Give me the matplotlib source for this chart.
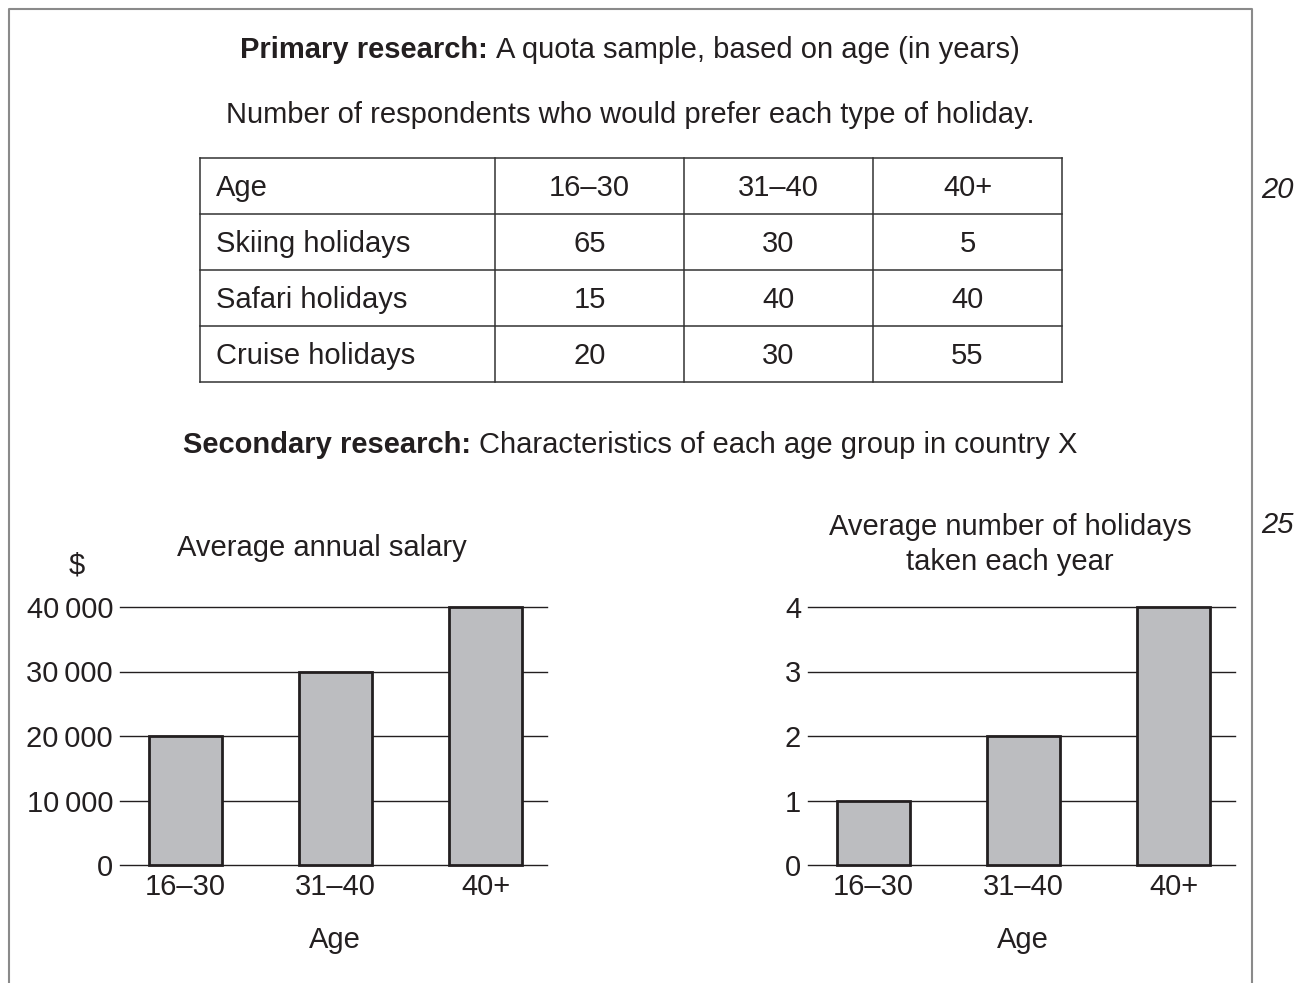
import numpy as np
import matplotlib
matplotlib.use("Agg")
from matplotlib import pyplot as plt

plt.rcParams['font.family'] = ['Liberation Sans', 'DejaVu Sans']

# Table data (primary research)
age_groups = ["16–30", "31–40", "40+"]
table_rows = ["Skiing holidays", "Safari holidays", "Cruise holidays"]
skiing = [65, 30, 5]
safari = [15, 40, 40]
cruise = [20, 30, 55]

# Bar chart data (secondary research)
salary = [20000, 30000, 40000]
salary_ticks = [0, 10000, 20000, 30000, 40000]
holidays = [1, 2, 4]
holiday_ticks = [0, 1, 2, 3, 4]

W, H = 1309, 983
FS = 21
DY = 2  # small vertical nudge for text placed with va="center"
txt_col = "#231f20"
bar_fill = "#bcbdc0"
bar_edge = "#231f20"

fig = plt.figure(figsize=(W / 100, H / 100), dpi=100)

# overlay axes in pixel coordinates
ax0 = fig.add_axes([0, 0, 1, 1])
ax0.set_xlim(0, W)
ax0.set_ylim(H, 0)
ax0.axis("off")

# frame (left, top, right)
ax0.plot([9, 9, 1252, 1252], [H, 9, 9, H], color="#8a8a8a", lw=1.5)

# line numbers
ax0.text(1277, 188 + DY, "20", style="italic", fontsize=FS, ha="center", va="center", color=txt_col)
ax0.text(1277, 523 + DY, "25", style="italic", fontsize=FS, ha="center", va="center", color=txt_col)

fig.canvas.draw()
renderer = fig.canvas.get_renderer()


def mixed_title(y, bold, rest, cx=630):
    t1 = ax0.text(0, y, bold, fontweight="bold", fontsize=FS, ha="left", va="center", color=txt_col)
    t2 = ax0.text(0, y, rest, fontsize=FS, ha="left", va="center", color=txt_col)
    w1 = t1.get_window_extent(renderer).width
    w2 = t2.get_window_extent(renderer).width
    x0 = cx - (w1 + w2) / 2
    t1.set_x(x0)
    t2.set_x(x0 + w1)


mixed_title(48 + DY, "Primary research: ", "A quota sample, based on age (in years)", cx=630)
ax0.text(630, 113 + DY, "Number of respondents who would prefer each type of holiday.",
         fontsize=FS, ha="center", va="center", color=txt_col)

# table
col_x = [200, 495, 684, 873, 1062]
row_y = [158, 214, 270, 326, 382]
for x in col_x:
    ax0.plot([x, x], [row_y[0], row_y[-1]], color="#333333", lw=1.1)
for y in row_y:
    ax0.plot([col_x[0], col_x[-1]], [y, y], color="#333333", lw=1.1)

header = ["Age"] + age_groups
body = [[table_rows[0]] + skiing, [table_rows[1]] + safari, [table_rows[2]] + cruise]
for r, row in enumerate([header] + body):
    yc = (row_y[r] + row_y[r + 1]) / 2 + DY
    for c, val in enumerate(row):
        if c == 0:
            ax0.text(col_x[0] + 16, yc, str(val), fontsize=FS, ha="left", va="center", color=txt_col)
        else:
            ax0.text((col_x[c] + col_x[c + 1]) / 2, yc, str(val), fontsize=FS,
                     ha="center", va="center", color=txt_col)

mixed_title(443 + DY, "Secondary research: ", "Characteristics of each age group in country X", cx=630)


def bar_axes(left_px, values, ticks, labels):
    # axes spanning gridline extent; y from 0 line (865) to top gridline (607)
    right_px = left_px + 427
    ax = fig.add_axes([left_px / W, 1 - 865 / H, (right_px - left_px) / W, (865 - 607) / H])
    pos = np.arange(len(values))
    ax.bar(pos, values, width=0.487, color=bar_fill, edgecolor=bar_edge, linewidth=2.0,
           zorder=3, clip_on=False)
    for t in ticks:
        ax.axhline(t, color="#231f20", lw=1.0, zorder=2, clip_on=False)
    ax.set_xlim(-0.437, 2.41)
    ax.set_ylim(0, ticks[-1])
    ax.set_yticks(ticks)
    ax.set_yticklabels(labels)
    ax.set_xticks(pos)
    ax.set_xticklabels(age_groups)
    ax.tick_params(length=0, labelsize=FS, labelcolor=txt_col)
    ax.tick_params(axis="y", pad=5)
    ax.tick_params(axis="x", pad=6)
    for s in ax.spines.values():
        s.set_visible(False)
    ax.set_facecolor("none")
    return ax


sal_labels = ["0" if v == 0 else f"{v // 1000}\u2009000" for v in salary_ticks]
ax1 = bar_axes(120, salary, salary_ticks, sal_labels)
ax2 = bar_axes(808, holidays, holiday_ticks, [str(v) for v in holiday_ticks])

ax0.text(322, 546 + DY, "Average annual salary", fontsize=FS, ha="center", va="center", color=txt_col)
ax0.text(77, 563 + DY, "$", fontsize=FS, ha="center", va="center", color=txt_col)
ax0.text(335, 938 + DY, "Age", fontsize=FS, ha="center", va="center", color=txt_col)

ax0.text(1010, 525 + DY, "Average number of holidays", fontsize=FS, ha="center", va="center", color=txt_col)
ax0.text(1010, 560 + DY, "taken each year", fontsize=FS, ha="center", va="center", color=txt_col)
ax0.text(1023, 938 + DY, "Age", fontsize=FS, ha="center", va="center", color=txt_col)

fig.savefig("out.png", dpi=100)
